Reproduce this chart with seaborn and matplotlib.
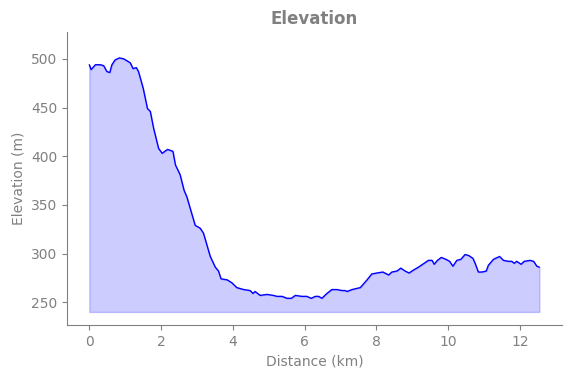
import matplotlib
matplotlib.use("Agg")
import matplotlib.pyplot as plt
import seaborn as sns
import pandas as pd

distance_km = [0.00, 0.05, 0.17, 0.31, 0.40, 0.49, 0.57, 0.63, 0.72, 0.84, 0.96, 1.05, 1.14,
               1.22, 1.31, 1.37, 1.50, 1.62, 1.70, 1.79, 1.93, 2.03, 2.18, 2.33, 2.40, 2.53,
               2.64, 2.72, 2.95, 3.09, 3.18, 3.37, 3.51, 3.60, 3.67, 3.84, 3.97, 4.11, 4.30,
               4.48, 4.56, 4.62, 4.76, 4.95, 5.13, 5.23, 5.37, 5.51, 5.63, 5.74, 5.92, 6.06,
               6.18, 6.30, 6.39, 6.48, 6.62, 6.76, 6.90, 7.04, 7.13, 7.18, 7.32, 7.55, 7.74,
               7.87, 8.01, 8.18, 8.34, 8.43, 8.57, 8.68, 8.80, 8.91, 9.03, 9.17, 9.33, 9.45,
               9.55, 9.61, 9.70, 9.81, 9.94, 10.04, 10.13, 10.24, 10.35, 10.47, 10.57, 10.69,
               10.75, 10.84, 10.94, 11.06, 11.12, 11.26, 11.43, 11.54, 11.68, 11.77, 11.84,
               11.91, 12.03, 12.12, 12.28, 12.38, 12.47, 12.54]
elevation_m = [494, 489, 494, 494, 493, 487, 486, 494, 499, 501, 500, 498, 496,
               490, 491, 487, 470, 449, 446, 429, 408, 403, 407, 405, 391, 381,
               365, 358, 329, 326, 321, 297, 286, 282, 274, 273, 270, 265, 263,
               262, 259, 261, 257, 258, 257, 256, 256, 254, 254, 257, 256, 256,
               254, 256, 256, 254, 259, 263, 263, 262, 262, 261, 263, 265, 273,
               279, 280, 281, 278, 281, 282, 285, 282, 280, 283, 286, 290, 293,
               293, 289, 293, 296, 294, 292, 287, 293, 294, 299, 298, 295,
               290, 281, 281, 282, 288, 294, 297, 293, 292, 292, 290,
               292, 289, 292, 293, 292, 287, 286]
fill_base = 240

df = pd.DataFrame({"Distance (km)": distance_km, "Elevation (m)": elevation_m})

sns.set_style("ticks")
plt.rcParams["font.family"] = ["DejaVu Sans"]
fig, ax = plt.subplots(figsize=(5.71, 3.78), dpi=100)
sns.lineplot(data=df, x="Distance (km)", y="Elevation (m)", color="blue", linewidth=1, ax=ax)
ax.fill_between(df["Distance (km)"], df["Elevation (m)"], fill_base, color="blue", alpha=0.2)
ax.set_ylim(226.5, 527.5)
ax.set_xticks([0, 2, 4, 6, 8, 10, 12])
ax.set_yticks([250, 300, 350, 400, 450, 500])
ax.set_title("Elevation", fontsize=12, fontweight="bold", color="gray")
ax.set_xlabel("Distance (km)", color="gray", fontsize=10)
ax.set_ylabel("Elevation (m)", color="gray", fontsize=10)
ax.tick_params(colors="gray", labelsize=10)
for s in ["left", "bottom"]:
    ax.spines[s].set_color("gray")
sns.despine(ax=ax)
fig.subplots_adjust(left=0.117, right=0.984, top=0.915, bottom=0.140)
fig.savefig("out.png", dpi=100)
